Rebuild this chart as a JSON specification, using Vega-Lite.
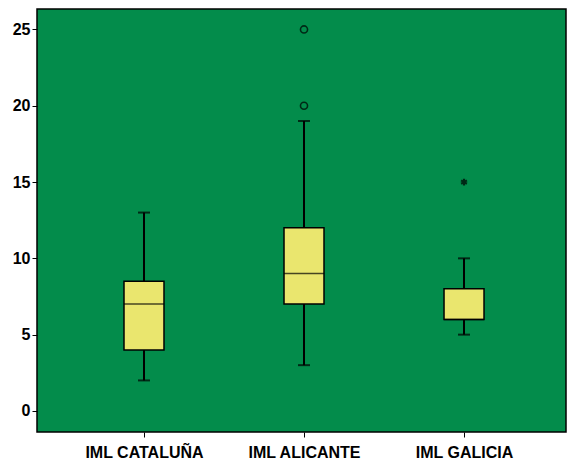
{
  "$schema": "https://vega.github.io/schema/vega-lite/v6.json",
  "width": 529,
  "height": 423,
  "autosize": "none",
  "padding": {"left": 37, "top": 9, "right": 1, "bottom": 28},
  "background": "white",
  "config": {
    "view": {"fill": "#038C4B", "stroke": "#000000", "strokeWidth": 1.5},
    "axis": {
      "labelFont": "Liberation Sans",
      "labelFontWeight": "bold",
      "labelFontSize": 16,
      "labelColor": "#000000",
      "tickColor": "#000000",
      "tickSize": 5,
      "tickWidth": 1,
      "domain": false,
      "grid": false,
      "title": null
    }
  },
  "datasets": {
    "boxes": [
      {"grupo": "IML CATALUÑA", "lo": 2, "q1": 4, "med": 7, "q3": 8.5, "hi": 13},
      {"grupo": "IML ALICANTE", "lo": 3, "q1": 7, "med": 9, "q3": 12, "hi": 19},
      {"grupo": "IML GALICIA", "lo": 5, "q1": 6, "med": 6, "q3": 8, "hi": 10}
    ],
    "outliers": [
      {"grupo": "IML ALICANTE", "valor": 20, "tipo": "atipico"},
      {"grupo": "IML ALICANTE", "valor": 25, "tipo": "atipico"},
      {"grupo": "IML GALICIA", "valor": 15, "tipo": "extremo"}
    ]
  },
  "encoding": {
    "x": {
      "field": "grupo",
      "type": "nominal",
      "sort": ["IML CATALUÑA", "IML ALICANTE", "IML GALICIA"],
      "scale": {"type": "point", "padding": 0.653, "align": 0.512},
      "axis": {"labelAngle": 0, "labelPadding": 7}
    }
  },
  "layer": [
    {
      "data": {"name": "boxes"},
      "mark": {"type": "rule", "color": "#000000", "strokeWidth": 2},
      "encoding": {
        "y": {"field": "lo", "type": "quantitative", "scale": {"domain": [-1.38, 26.34], "nice": false, "zero": false}, "axis": {"values": [0, 5, 10, 15, 20, 25], "labelPadding": 2}},
        "y2": {"field": "hi"}
      }
    },
    {
      "data": {"name": "boxes"},
      "mark": {"type": "tick", "orient": "horizontal", "color": "#000000", "size": 12, "thickness": 2},
      "encoding": {"y": {"field": "lo", "type": "quantitative"}}
    },
    {
      "data": {"name": "boxes"},
      "mark": {"type": "tick", "orient": "horizontal", "color": "#000000", "size": 12, "thickness": 2},
      "encoding": {"y": {"field": "hi", "type": "quantitative"}}
    },
    {
      "data": {"name": "boxes"},
      "mark": {"type": "bar", "width": 40, "fill": "#EAE66E", "stroke": "#000000", "strokeWidth": 1.5},
      "encoding": {
        "y": {"field": "q1", "type": "quantitative"},
        "y2": {"field": "q3"}
      }
    },
    {
      "data": {"name": "boxes"},
      "mark": {"type": "tick", "orient": "horizontal", "color": "#000000", "size": 40, "thickness": 1.5},
      "encoding": {"y": {"field": "med", "type": "quantitative"}}
    },
    {
      "data": {"name": "outliers"},
      "transform": [{"filter": "datum.tipo === 'atipico'"}],
      "mark": {"type": "point", "shape": "circle", "filled": false, "stroke": "#000000", "strokeWidth": 1.6, "size": 50},
      "encoding": {"y": {"field": "valor", "type": "quantitative"}}
    },
    {
      "data": {"name": "outliers"},
      "transform": [{"filter": "datum.tipo === 'extremo'"}],
      "mark": {"type": "point", "shape": "M0,-1L0,1M-0.87,-0.5L0.87,0.5M-0.87,0.5L0.87,-0.5", "filled": false, "stroke": "#000000", "strokeWidth": 2.2, "size": 45},
      "encoding": {"y": {"field": "valor", "type": "quantitative"}}
    }
  ]
}
